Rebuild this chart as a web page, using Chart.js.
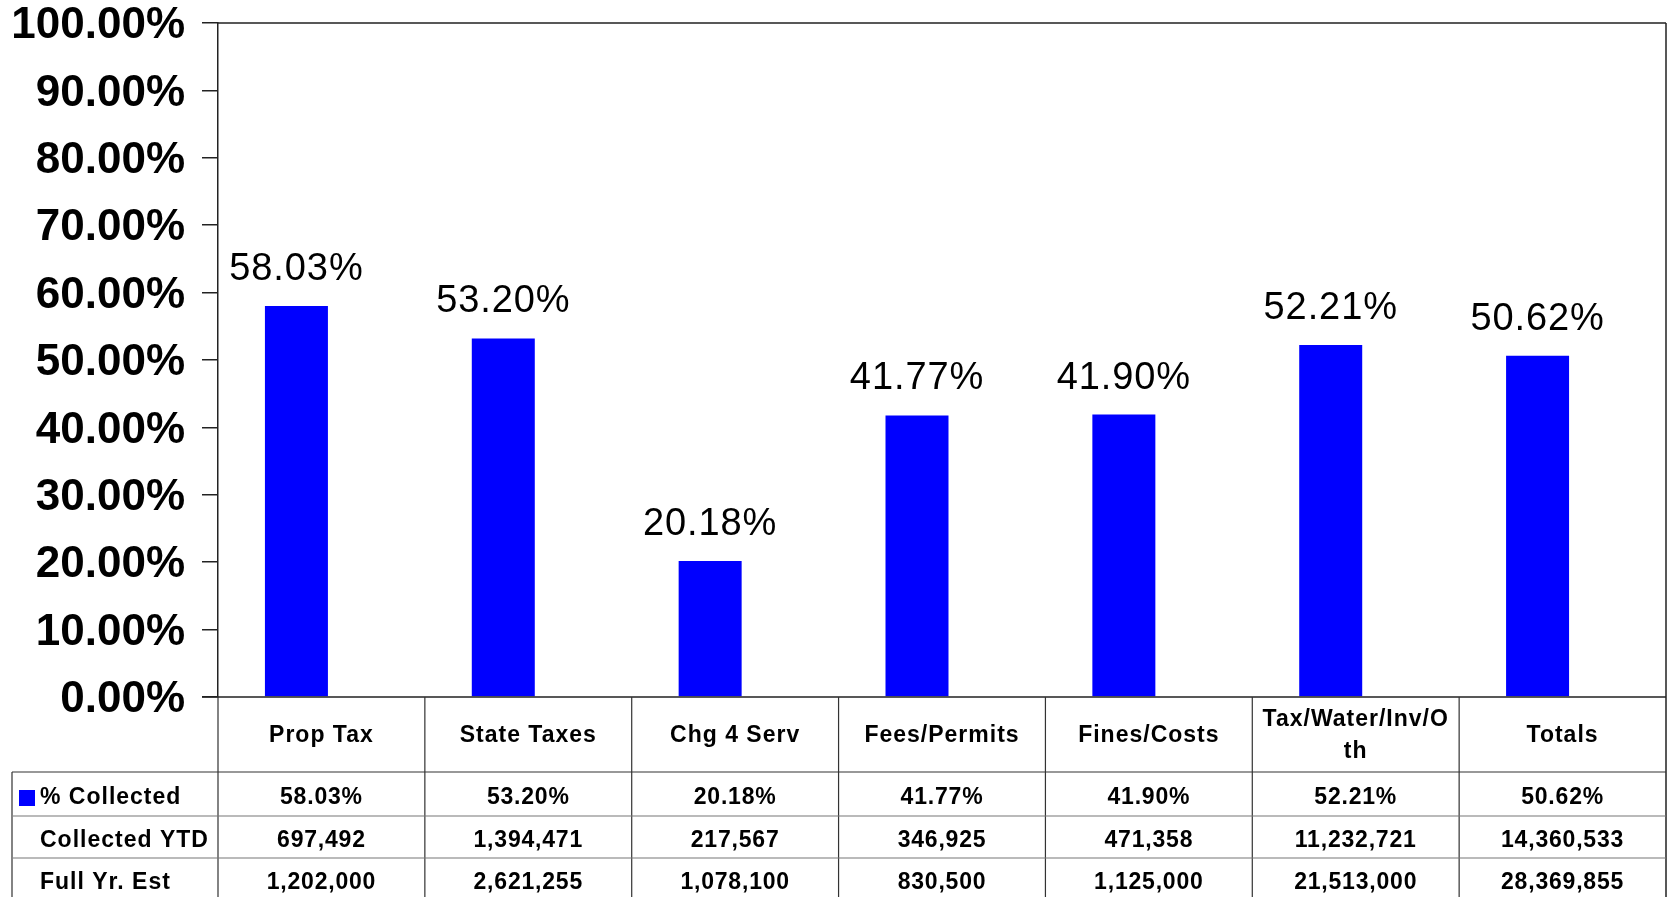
<!DOCTYPE html>
<html>
<head>
<meta charset="utf-8">
<script src="https://cdn.jsdelivr.net/npm/chart.js@4/dist/chart.umd.min.js"></script>
<style>
html,body{margin:0;padding:0;background:#fff;}
canvas{display:block;}
</style>
</head>
<body>
<canvas id="c" width="1673" height="897"></canvas>
<script>
const categories = ["Prop Tax", "State Taxes", "Chg 4 Serv", "Fees/Permits", "Fines/Costs", ["Tax/Water/Inv/O", "th"], "Totals"];
const pctCollected = [58.03, 53.20, 20.18, 41.77, 41.90, 52.21, 50.62];
const pctCollectedText = ["58.03%", "53.20%", "20.18%", "41.77%", "41.90%", "52.21%", "50.62%"];
const collectedYTD = ["697,492", "1,394,471", "217,567", "346,925", "471,358", "11,232,721", "14,360,533"];
const fullYrEst = ["1,202,000", "2,621,255", "1,078,100", "830,500", "1,125,000", "21,513,000", "28,369,855"];
const rowLabels = ["% Collected", "Collected YTD", "Full Yr. Est"];
const yTicks = [0, 10, 20, 30, 40, 50, 60, 70, 80, 90, 100];

const FONT = "'Liberation Sans', Arial, sans-serif";
const BLUE = '#0000FF';

const tablePlugin = {
  id: 'tablePlugin',
  afterDraw(chart) {
    const ctx = chart.ctx;
    const a = chart.chartArea;
    const L = a.left, R = a.right, T = a.top, B = a.bottom;
    const n = categories.length;
    const colW = (R - L) / n;
    const catH = 75;
    const rowH = [44, 42, 42];
    const tableLeft = 12;
    const H = chart.height;

    ctx.save();
    // data labels above bars
    const meta = chart.getDatasetMeta(0);
    ctx.fillStyle = '#000';
    ctx.font = "38px " + FONT;
    ctx.letterSpacing = '0.9px';
    ctx.textAlign = 'center';
    ctx.textBaseline = 'alphabetic';
    meta.data.forEach((bar, i) => {
      ctx.fillText(pctCollectedText[i], bar.x, bar.y - 26);
    });

    // frame lines
    ctx.strokeStyle = '#222';
    ctx.lineWidth = 1.5;
    ctx.beginPath();
    ctx.moveTo(L, T); ctx.lineTo(R, T);
    ctx.moveTo(R, T); ctx.lineTo(R, H);
    ctx.moveTo(L - 16, B); ctx.lineTo(R, B);
    ctx.stroke();

    // vertical column lines
    ctx.lineWidth = 1.2;
    ctx.strokeStyle = '#333';
    ctx.beginPath();
    for (let i = 0; i < n; i++) {
      const x = L + i * colW;
      ctx.moveTo(x, B); ctx.lineTo(x, H);
    }
    const y1 = B + catH;
    ctx.moveTo(tableLeft, y1); ctx.lineTo(tableLeft, H);
    ctx.moveTo(tableLeft, y1); ctx.lineTo(R, y1);
    ctx.stroke();

    ctx.strokeStyle = '#777';
    ctx.beginPath();
    let yy = y1;
    for (let r = 0; r < 2; r++) {
      yy += rowH[r];
      ctx.moveTo(tableLeft + 1, yy); ctx.lineTo(R, yy);
    }
    ctx.stroke();

    // category labels
    ctx.fillStyle = '#000';
    ctx.font = "bold 23px " + FONT;
    ctx.letterSpacing = '1px';
    ctx.textAlign = 'center';
    ctx.textBaseline = 'middle';
    categories.forEach((c, i) => {
      const cx = L + (i + 0.5) * colW;
      const lines = Array.isArray(c) ? c : [c];
      const lh = 32;
      const y0 = B + catH / 2 + 1 - (lines.length - 1) * lh / 2;
      lines.forEach((t, k) => ctx.fillText(t, cx, y0 + k * lh));
    });

    // data rows
    const rows = [pctCollectedText, collectedYTD, fullYrEst];
    let top = y1;
    rows.forEach((vals, r) => {
      const cy = top + rowH[r] / 2 + 4;
      ctx.letterSpacing = '0.8px';
      ctx.textAlign = 'center';
      vals.forEach((v, i) => {
        ctx.fillText(v, L + (i + 0.5) * colW, cy);
      });
      ctx.textAlign = 'left';
      ctx.letterSpacing = '1px';
      ctx.fillText(rowLabels[r], 40, cy);
      if (r === 0) {
        ctx.fillStyle = BLUE;
        ctx.fillRect(19, cy - 8, 16, 16);
        ctx.fillStyle = '#000';
      }
      top += rowH[r];
    });
    ctx.restore();
  }
};

new Chart(document.getElementById('c'), {
  type: 'bar',
  data: {
    labels: categories,
    datasets: [
      {
        label: '% Collected',
        data: pctCollected,
        backgroundColor: BLUE,
        borderWidth: 0,
        categoryPercentage: 0.4834,
        barPercentage: 1.26
      },
      {
        label: '',
        data: categories.map(() => null),
        backgroundColor: 'rgba(0,0,0,0)',
        categoryPercentage: 0.4834,
        barPercentage: 1.26
      }
    ]
  },
  options: {
    responsive: false,
    animation: false,
    devicePixelRatio: 1,
    layout: { padding: { top: 23, right: 7, bottom: 200, left: 0 } },
    plugins: { legend: { display: false }, tooltip: { enabled: false } },
    scales: {
      x: { display: false },
      y: {
        min: 0,
        max: 100,
        afterFit(s) { s.width = 218; s.paddingTop = 0; s.paddingBottom = 0; },
        afterBuildTicks(s) { s.ticks = yTicks.map(v => ({ value: v })); },
        border: { display: true, color: '#222', width: 1.5 },
        grid: { drawOnChartArea: false, drawTicks: true, tickLength: 16, color: '#222', lineWidth: 1.5 },
        ticks: {
          color: '#000',
          padding: 17,
          labelOffset: 3,
          font: { family: FONT, size: 44, weight: 'bold', lineHeight: 1.0 },
          callback: (v) => v.toFixed(2) + '%'
        }
      }
    }
  },
  plugins: [tablePlugin]
});
</script>
</body>
</html>
